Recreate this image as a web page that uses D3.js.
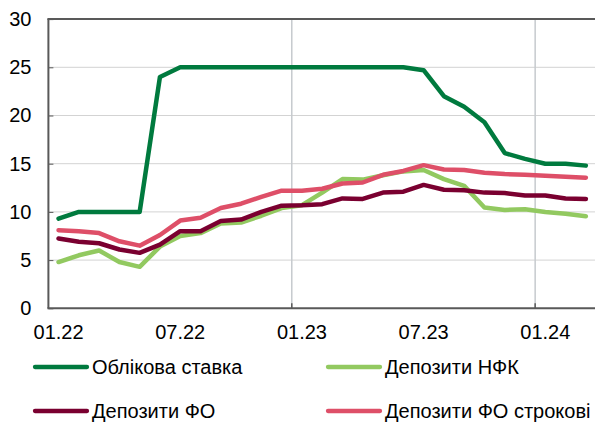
<!DOCTYPE html>
<html>
<head>
<meta charset="utf-8">
<script src="https://cdn.jsdelivr.net/npm/d3@7"></script>
<style>
  html, body { margin: 0; padding: 0; background: #fff; }
  svg { display: block; }
  text { font-family: Arial, "Liberation Sans", sans-serif; fill: #000; }
</style>
</head>
<body>
<script>
// ---- data ----
const months = ["01.22","02.22","03.22","04.22","05.22","06.22","07.22","08.22","09.22","10.22","11.22","12.22",
                "01.23","02.23","03.23","04.23","05.23","06.23","07.23","08.23","09.23","10.23","11.23","12.23",
                "01.24","02.24","03.24"];
const tickLabels = ["01.22","07.22","01.23","07.23","01.24"];
const gridMonths = ["01.23","01.24"];
const yTicks = [0,5,10,15,20,25,30];

const policyRate = [9.3,10,10,10,10,24,25,25,25,25,25,25,25,25,25,25,25,25,24.7,22,20.9,19.3,16.1,15.5,15,15,14.8];
const depositsNFC = [4.8,5.5,6.0,4.8,4.3,6.4,7.5,7.8,8.8,8.9,9.6,10.4,10.7,12.0,13.4,13.35,13.8,14.2,14.35,13.4,12.7,10.45,10.2,10.27,10.0,9.8,9.55];
const depositsHH = [7.25,6.9,6.75,6.1,5.75,6.6,8.0,8.0,9.05,9.2,10.0,10.65,10.7,10.8,11.4,11.35,12.0,12.1,12.8,12.3,12.25,12.0,11.95,11.7,11.7,11.4,11.35];
const depositsHHTerm = [8.1,8.0,7.8,6.95,6.5,7.6,9.1,9.4,10.4,10.85,11.55,12.2,12.2,12.4,12.95,13.05,13.85,14.25,14.85,14.4,14.35,14.07,13.93,13.85,13.76,13.65,13.55];

const seriesNames = ["Облікова ставка","Депозити НФК","Депозити ФО","Депозити ФО строкові"];
const seriesColors = ["#007A3E","#92C960","#7A0030","#DE4F68"];
const seriesData = [policyRate, depositsNFC, depositsHH, depositsHHTerm];

// ---- layout ----
const W = 595, H = 422;
const mLeft = 48.4, mRight = 596, mTop = 19.1, mBottom = 308.3;
const FONT = 20;

const svg = d3.select("body").append("svg").attr("width", W).attr("height", H);

const x = d3.scaleBand().domain(months).range([mLeft, mRight]).padding(0);
const xc = m => x(m) + x.bandwidth() / 2;
const y = d3.scaleLinear().domain([0, 30]).range([mBottom, mTop]);

// horizontal gridlines
svg.append("g").selectAll("line").data(yTicks.filter(v => v > 0 && v < 30)).join("line")
  .attr("x1", mLeft).attr("x2", W).attr("y1", d => y(d)).attr("y2", d => y(d))
  .attr("stroke", "#D3D3D3").attr("stroke-width", 1);

// vertical gridlines
svg.append("g").selectAll("line").data(gridMonths).join("line")
  .attr("x1", d => x(d)).attr("x2", d => x(d)).attr("y1", mTop).attr("y2", mBottom)
  .attr("stroke", "#C6CACE").attr("stroke-width", 1.5);

// y axis
const yAxis = d3.axisLeft(y).tickValues(yTicks).tickSize(-5).tickPadding(17).tickFormat(d3.format("d"));
const gy = svg.append("g").attr("transform", `translate(${mLeft},0)`).call(yAxis);
gy.select(".domain").remove();
gy.selectAll(".tick line").attr("stroke", "#595959").attr("stroke-width", 1);
gy.selectAll(".tick text").attr("font-size", FONT).attr("font-family", "Arial, 'Liberation Sans', sans-serif").attr("fill", "#000");

// x axis
const xAxis = d3.axisBottom(x).tickValues(tickLabels).tickSize(0).tickPadding(17);
const gx = svg.append("g").attr("transform", `translate(0,${mBottom})`).call(xAxis);
gx.select(".domain").remove();
gx.selectAll(".tick text").attr("font-size", FONT).attr("font-family", "Arial, 'Liberation Sans', sans-serif").attr("fill", "#000");

// x inward tick marks at gridlines
svg.append("g").selectAll("line").data(gridMonths).join("line")
  .attr("x1", d => x(d)).attr("x2", d => x(d)).attr("y1", mBottom - 5).attr("y2", mBottom)
  .attr("stroke", "#595959").attr("stroke-width", 1.5);

// frame lines: left, bottom, top
svg.append("line").attr("x1", mLeft).attr("x2", mLeft).attr("y1", mTop).attr("y2", mBottom)
  .attr("stroke", "#595959").attr("stroke-width", 2);
svg.append("line").attr("x1", mLeft - 1).attr("x2", W).attr("y1", mBottom).attr("y2", mBottom)
  .attr("stroke", "#595959").attr("stroke-width", 2);
svg.append("line").attr("x1", mLeft - 1).attr("x2", W).attr("y1", mTop).attr("y2", mTop)
  .attr("stroke", "#595959").attr("stroke-width", 2);

// series lines
const line = d3.line().x((d, i) => xc(months[i])).y(d => y(d));
seriesData.forEach((data, k) => {
  svg.append("path").datum(data)
    .attr("d", line)
    .attr("fill", "none")
    .attr("stroke", seriesColors[k])
    .attr("stroke-width", 4.5)
    .attr("stroke-linejoin", "round")
    .attr("stroke-linecap", "round");
});

// legend
const legendPos = [[35, 367], [328, 367], [35, 411], [328, 411]];
seriesNames.forEach((name, k) => {
  const [lx, ly] = legendPos[k];
  const g = svg.append("g").attr("transform", `translate(${lx},${ly})`);
  g.append("line").attr("x1", 0).attr("x2", 52).attr("y1", 0).attr("y2", 0)
    .attr("stroke", seriesColors[k]).attr("stroke-width", 4.3).attr("stroke-linecap", "round");
  g.append("text").attr("x", 57).attr("y", 0).attr("dy", "0.35em")
    .attr("font-size", FONT).text(name);
});
</script>
</body>
</html>
